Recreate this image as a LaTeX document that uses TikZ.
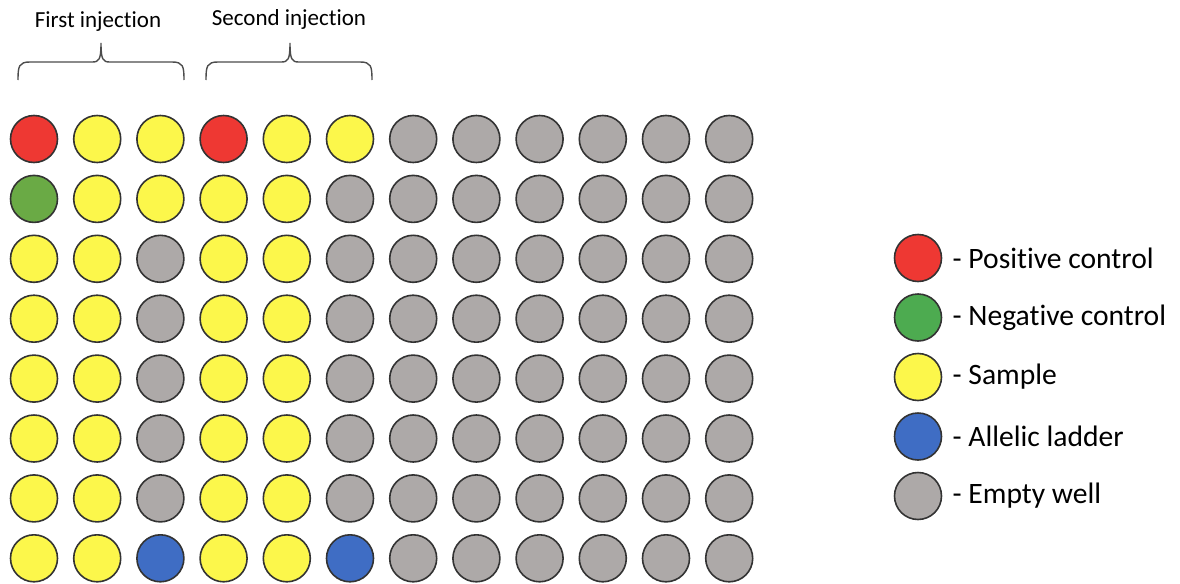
\documentclass[tikz,border=0pt]{standalone}
\usepackage{fontspec}
\setmainfont{Carlito}[Ligatures=NoCommon]
\usetikzlibrary{calc, positioning}

\definecolor{posred}{HTML}{EE3833}
\definecolor{negreen}{HTML}{6AAA45}
\definecolor{leggreen}{HTML}{4DAB50}
\definecolor{sampyellow}{HTML}{FCF74B}
\definecolor{ladblue}{HTML}{3F6DC4}
\definecolor{emptygray}{HTML}{ADA9A8}
\colorlet{wR}{posred}
\colorlet{wN}{negreen}
\colorlet{wY}{sampyellow}
\colorlet{wB}{ladblue}
\colorlet{wE}{emptygray}

\tikzset{
  well/.style={circle, draw=black!80, line width=0.8pt, minimum size=23.5pt, inner sep=0pt},
  legtext/.style={inner sep=0pt, anchor=west, font=\fontsize{14.8}{17}\selectfont},
  toptext/.style={inner sep=0pt, font=\fontsize{11.5}{13}\selectfont},
  bracket/.style={draw=black!70, line width=0.7pt}
}

\begin{document}
\begin{tikzpicture}[x=0.5pt, y=-0.5pt]

    % 1. Fix the frame of the picture
    \useasboundingbox (0,0) rectangle (1180,584);

    % 2. The plate: 8 rows of 12 wells
    \foreach \r/\cols in {1/{wR,wY,wY,wR,wY,wY,wE,wE,wE,wE,wE,wE},
                          2/{wN,wY,wY,wY,wY,wE,wE,wE,wE,wE,wE,wE},
                          3/{wY,wY,wE,wY,wY,wE,wE,wE,wE,wE,wE,wE},
                          4/{wY,wY,wE,wY,wY,wE,wE,wE,wE,wE,wE,wE},
                          5/{wY,wY,wE,wY,wY,wE,wE,wE,wE,wE,wE,wE},
                          6/{wY,wY,wE,wY,wY,wE,wE,wE,wE,wE,wE,wE},
                          7/{wY,wY,wE,wY,wY,wE,wE,wE,wE,wE,wE,wE},
                          8/{wY,wY,wB,wY,wY,wB,wE,wE,wE,wE,wE,wE}}
      \foreach \c [count=\i] in \cols
        \node[well, fill=\c] (w-\r-\i) at ({34+63.2*(\i-1)}, {139+59.9*(\r-1)}) {};

    % 3. Braces over the first and second injection
    \coordinate (tipA) at (101,43);
    \coordinate (tipB) at (290,43);
    \draw[bracket] (18,80) .. controls (18,66) and (19,62) .. (30,62) -- (92,62)
                   .. controls (99,62) and (101,60) .. (tipA)
                   .. controls (101,60) and (103,62) .. (110,62) -- (172,62)
                   .. controls (183,62) and (184,66) .. (184,80);
    \draw[bracket] (206,80) .. controls (206,66) and (207,62) .. (218,62) -- (281,62)
                   .. controls (288,62) and (290,60) .. (tipB)
                   .. controls (290,60) and (292,62) .. (299,62) -- (360,62)
                   .. controls (371,62) and (372,66) .. (372,80);
    \node[toptext] (first) at (98,22) {First injection};
    \node[toptext] (second) at (289,19) {Second injection};

    % 4. Legend
    \foreach \k/\col/\txt in {0/posred/Positive control,
                              1/leggreen/Negative control,
                              2/sampyellow/Sample,
                              3/ladblue/Allelic ladder,
                              4/emptygray/Empty well}
    {
      \node[well, fill=\col] (leg\k) at (918, {258+59.5*\k}) {};
      \node[legtext, right=5pt of leg\k] (legtxt\k) {- \txt};
    }

\end{tikzpicture}
\end{document}
